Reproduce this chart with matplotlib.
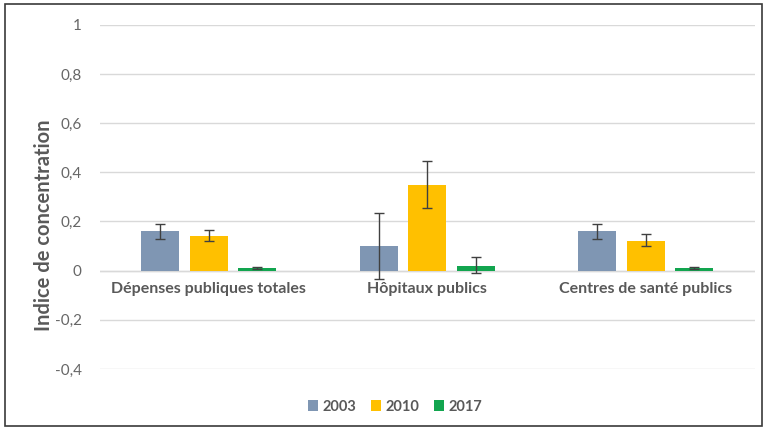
import numpy as np
import matplotlib.pyplot as plt
from matplotlib.patches import Rectangle

# données
categories = ['Dépenses publiques totales', 'Hôpitaux publics', 'Centres de santé publics']
years = ['2003', '2010', '2017']
v2003 = [0.16, 0.10, 0.16]
v2010 = [0.14, 0.35, 0.12]
v2017 = [0.01, 0.02, 0.01]
# intervalles (bas, haut)
lo2003 = [0.13, -0.035, 0.13]
hi2003 = [0.19, 0.235, 0.19]
lo2010 = [0.12, 0.255, 0.10]
hi2010 = [0.165, 0.445, 0.15]
lo2017 = [0.006, -0.01, 0.006]
hi2017 = [0.013, 0.055, 0.013]
yticks = [-0.4, -0.2, 0, 0.2, 0.4, 0.6, 0.8, 1]

colors = ['#7f96b3', '#ffc000', '#12a54f']
grey = '#595959'
plt.rcParams['font.family'] = ['Lato', 'DejaVu Sans']

fig = plt.figure(figsize=(7.67, 4.29), dpi=100)
ax = fig.add_axes([0.130, 0.140, 0.854, 0.802])

x = np.arange(len(categories))
w = 0.174
step = 0.222
series = [(v2003, lo2003, hi2003), (v2010, lo2010, hi2010), (v2017, lo2017, hi2017)]
for i, (vals, lo, hi) in enumerate(series):
    vals = np.array(vals)
    err = [vals - np.array(lo), np.array(hi) - vals]
    ax.bar(x + (i - 1) * step, vals, w, color=colors[i], label=years[i], zorder=2)
    ax.errorbar(x + (i - 1) * step, vals, yerr=err, fmt='none', ecolor='#404040',
                elinewidth=1, capsize=3.5, capthick=1, zorder=3)

ax.set_xlim(-0.5, 2.5)
ax.set_ylim(-0.4, 1)
ax.set_yticks(yticks)
ax.set_yticklabels([('%g' % t).replace('.', ',') for t in yticks], color='#666666', fontsize=11)
ax.yaxis.grid(True, color='#d9d9d9', linewidth=1, zorder=0)
ax.axhline(0, color='#d9d9d9', linewidth=1, zorder=1)
ax.tick_params(axis='y', length=0, pad=13)
ax.tick_params(axis='x', length=0, pad=10)
ax.set_xticks([])
for xi, c in zip(x, categories):
    ax.text(xi, -0.045, c, ha='center', va='top', fontsize=11.5, fontweight='bold', color=grey)
for s in ax.spines.values():
    s.set_visible(False)

fig.text(0.057, 0.475, 'Indice de concentration', rotation=90, ha='center', va='center',
         fontsize=14.5, fontweight='bold', color=grey)

leg = fig.legend(loc='center', bbox_to_anchor=(0.515, 0.052), ncol=3, frameon=False,
                 handlelength=0.7, handleheight=0.7, handletextpad=0.3, columnspacing=1.0,
                 prop={'weight': 'bold', 'size': 10.5})
for t in leg.get_texts():
    t.set_color(grey)

fig.patches.append(Rectangle((0.006, 0.006), 0.988, 0.985, transform=fig.transFigure,
                             fill=False, edgecolor='#3a3a3a', linewidth=1.2))

fig.savefig('out.png', dpi=100)
